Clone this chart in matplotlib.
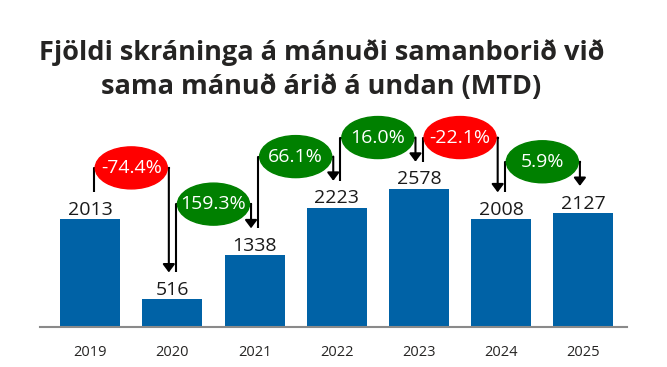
import matplotlib.pyplot as plt
from matplotlib.patches import Ellipse
import numpy as np

plt.rcParams['font.family'] = ['Open Sans', 'DejaVu Sans']

years = ['2019', '2020', '2021', '2022', '2023', '2024', '2025']
counts = [2013, 516, 1338, 2223, 2578, 2008, 2127]
changes = ['-74.4%', '159.3%', '66.1%', '16.0%', '-22.1%', '5.9%']

bar_color = '#0062A6'
text_color = '#252423'

fig = plt.figure(figsize=(6.67, 3.67), dpi=100)
ax = fig.add_axes([40 / 667, 40 / 367, 587 / 667, 214.8 / 367])

x = np.arange(len(years))
ax.bar(x, counts, width=0.73, color=bar_color)
ax.set_xlim(-0.61, 6.53)
ax.set_ylim(0, 4000)

for xi, v in zip(x, counts):
    ax.annotate(str(v), (xi, v), xytext=(0, 3), textcoords='offset points',
                ha='center', va='baseline', fontsize=14, color='#1a1a1a')

# connector geometry (data units)
line_gap = 500     # end of the lines above bar top
ell_gap = 950      # ellipse centre above the higher bar
ell_w = 0.876
ell_h = 782
dx = 0.043

for i, label in enumerate(changes):
    v0, v1 = counts[i], counts[i + 1]
    mid = i + 0.5
    cy = max(v0, v1) + ell_gap
    color = 'red' if label.startswith('-') else 'green'
    # left leg
    ax.plot([i + dx, i + dx, mid - ell_w / 2], [v0 + line_gap, cy, cy],
            color='black', lw=1.5, solid_capstyle='butt', zorder=3)
    # right leg with arrow
    ax.plot([mid + ell_w / 2, i + 1 - dx], [cy, cy], color='black', lw=1.5, zorder=3)
    ax.annotate('', xy=(i + 1 - dx, v1 + line_gap), xytext=(i + 1 - dx, cy),
                arrowprops=dict(arrowstyle='-|>,head_length=0.4,head_width=0.3',
                                color='black', lw=1.5, shrinkA=0, shrinkB=0,
                                mutation_scale=12), zorder=3)
    ax.add_patch(Ellipse((mid, cy), ell_w, ell_h, color=color, zorder=4))
    ax.text(mid, cy, label, ha='center', va='center', fontsize=14,
            color='white', zorder=5)

ax.set_xticks(x, years)
ax.tick_params(axis='x', length=0, pad=13, labelsize=10.5, labelcolor=text_color)
ax.set_yticks([])
for s in ['top', 'left', 'right']:
    ax.spines[s].set_visible(False)
ax.spines['bottom'].set_color('#8a8a8a')
ax.spines['bottom'].set_linewidth(1.5)

fig.text(0.482, 1 - 70 / 367, 'Fjöldi skráninga á mánuði samanborið við\nsama mánuð árið á undan (MTD)',
         ha='center', va='center', fontsize=19.5, fontweight='bold',
         color=text_color, linespacing=1.4)

fig.savefig('out.png', dpi=100)
